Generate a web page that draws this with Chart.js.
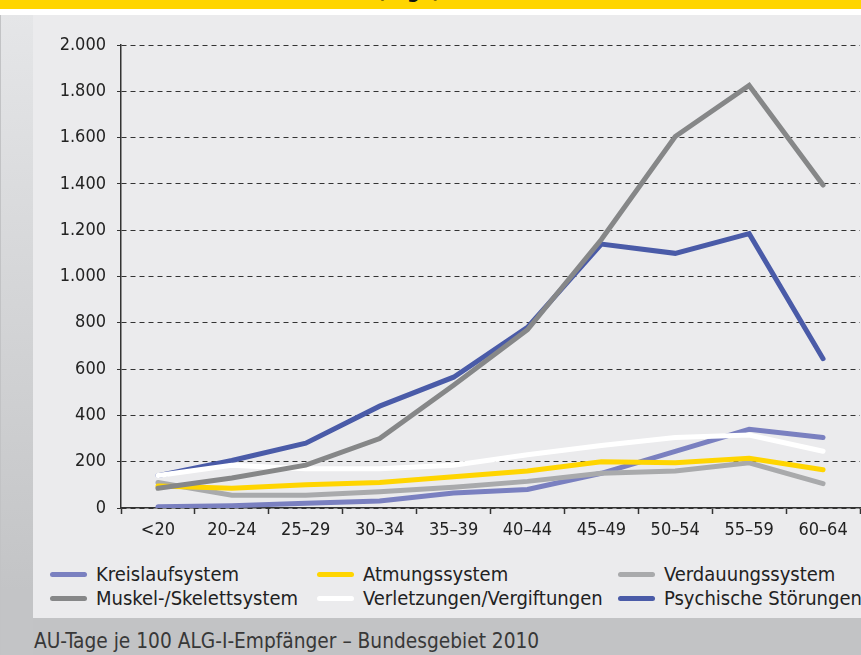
<!DOCTYPE html>
<html lang="de">
<head>
<meta charset="utf-8">
<title>AU-Tage je 100 ALG-I-Empfänger</title>
<script src="https://cdn.jsdelivr.net/npm/chart.js@4.4.1/dist/chart.umd.min.js"></script>
<style>
    html, body {
        margin: 0;
        padding: 0;
    }
    body {
        width: 861px;
        height: 655px;
        position: relative;
        overflow: hidden;
        background: #c2c3c5;
        font-family: 'DejaVu Sans Condensed', 'Liberation Sans Narrow', Roboto, sans-serif;
    }
    .title-bar {
        position: absolute;
        left: 0; top: 0;
        width: 861px; height: 9px;
        background: #ffd500;
        overflow: hidden;
    }
    .title-bar span {
        position: absolute;
        left: 377px; top: -19px;
        font-size: 20px;
        line-height: 20px;
        font-weight: bold;
        color: #111;
        white-space: nowrap;
    }
    .gap {
        position: absolute;
        left: 0; top: 9px;
        width: 861px; height: 6px;
        background: #fff;
    }
    .side {
        position: absolute;
        left: 1px; top: 15px;
        width: 32px; height: 640px;
        background: linear-gradient(#e5e6e8, #c3c4c6 90%);
    }
    .panel {
        position: absolute;
        left: 33px; top: 15px;
        width: 828px; height: 603px;
        background: #ebebed;
    }
    .chart-box {
        position: absolute;
        left: 0; top: 0;
        width: 828px; height: 530px;
    }
    .legend .item {
        position: absolute;
        height: 24px;
        line-height: 24px;
        font-size: 20px;
        color: #222;
        white-space: nowrap;
    }
    .legend .swatch {
        display: inline-block;
        width: 37px;
        height: 5px;
        border-radius: 3px;
        vertical-align: middle;
        margin-right: 9px;
        position: relative;
        top: -1px;
    }
    .footer {
        position: absolute;
        left: 34px; top: 629px;
        font-size: 20.7px;
        line-height: 24px;
        color: #383838;
        white-space: nowrap;
    }
</style>
</head>
<body>
<div class="title-bar"><span>(Tage)</span></div>
<div class="gap"></div>
<div class="side"></div>
<div class="panel">
    <div class="chart-box"><canvas id="auChart"></canvas></div>
    <div class="legend" id="legend"></div>
</div>
<div class="footer">AU-Tage je 100 ALG-I-Empfänger – Bundesgebiet 2010</div>

<script>
// Altersgruppen und Werte (AU-Tage je 100 Empfänger)
const ageGroups = ['<20', '20–24', '25–29', '30–34', '35–39', '40–44', '45–49', '50–54', '55–59', '60–64'];

const kreislauf    = [5, 10, 20, 30, 65, 80, 150, 245, 340, 305];
const atmung       = [95, 85, 100, 110, 135, 160, 200, 195, 215, 165];
const verdauung    = [110, 55, 55, 70, 90, 115, 150, 160, 195, 105];
const muskel       = [85, 130, 185, 300, 530, 770, 1160, 1605, 1825, 1395];
const verletzungen = [140, 185, 170, 170, 185, 230, 270, 305, 315, 245];
const psychisch    = [140, 205, 280, 440, 565, 780, 1140, 1100, 1185, 645];

const yTicks = [0, 200, 400, 600, 800, 1000, 1200, 1400, 1600, 1800, 2000];
const yTickLabels = ['0', '200', '400', '600', '800', '1.000', '1.200', '1.400', '1.600', '1.800', '2.000'];

const FONT = "'DejaVu Sans Condensed', 'Liberation Sans Narrow', Roboto, sans-serif";

// legend order (3 columns, 2 rows) and z-order of the lines
const series = [
    { label: 'Kreislaufsystem',            data: kreislauf,    color: '#7a80c0', order: 5 },
    { label: 'Atmungssystem',              data: atmung,       color: '#ffd500', order: 2 },
    { label: 'Verdauungssystem',           data: verdauung,    color: '#a9aaac', order: 3 },
    { label: 'Muskel-/Skelettsystem',      data: muskel,       color: '#868788', order: 0 },
    { label: 'Verletzungen/Vergiftungen',  data: verletzungen, color: '#ffffff', order: 1 },
    { label: 'Psychische Störungen',       data: psychisch,    color: '#4a5ba8', order: 4 }
];

document.addEventListener('DOMContentLoaded', function() {
    buildLegend();
    drawChart();
});

function buildLegend() {
    const legend = document.getElementById('legend');
    const colX = [17, 284, 585];
    const rowY = [547, 571];
    series.forEach((s, i) => {
        const item = document.createElement('div');
        item.className = 'item';
        item.style.left = colX[i % 3] + 'px';
        item.style.top = rowY[Math.floor(i / 3)] + 'px';
        item.innerHTML = '<span class="swatch" style="background:' + s.color + '"></span>' + s.label;
        legend.appendChild(item);
    });
}

function drawChart() {
    const ctx = document.getElementById('auChart').getContext('2d');
    new Chart(ctx, {
        type: 'line',
        data: {
            labels: ageGroups,
            datasets: series.map(s => ({
                label: s.label,
                data: s.data,
                borderColor: s.color,
                backgroundColor: s.color,
                borderWidth: 5,
                borderCapStyle: 'round',
                borderJoinStyle: 'miter',
                pointRadius: 0,
                tension: 0,
                fill: false,
                order: s.order
            }))
        },
        options: {
            responsive: true,
            maintainAspectRatio: false,
            animation: false,
            layout: {
                padding: { top: 30, right: 1, left: 0, bottom: 0 }
            },
            plugins: {
                legend: { display: false },
                tooltip: { enabled: false }
            },
            scales: {
                x: {
                    type: 'category',
                    offset: true,
                    afterFit: function(scale) { scale.height = 37; },
                    grid: {
                        offset: true,
                        drawOnChartArea: false,
                        drawTicks: true,
                        tickLength: 6,
                        tickColor: '#333',
                        tickWidth: 1.5
                    },
                    border: { color: '#333', width: 1.5 },
                    ticks: {
                        color: '#222',
                        padding: 6,
                        maxRotation: 0,
                        autoSkip: false,
                        font: { family: FONT, size: 18 }
                    }
                },
                y: {
                    min: 0,
                    max: 2000,
                    afterFit: function(scale) { scale.width = 88; },
                    afterBuildTicks: function(scale) {
                        scale.ticks = yTicks.map(v => ({ value: v }));
                    },
                    grid: {
                        color: '#333',
                        lineWidth: 1,
                        tickLength: 4,
                        tickColor: '#333'
                    },
                    border: { color: '#333', width: 1.5, dash: [5, 4] },
                    ticks: {
                        color: '#222',
                        padding: 11,
                        font: { family: FONT, size: 18 },
                        callback: function(value, index) { return yTickLabels[index]; }
                    }
                }
            }
        }
    });
}
</script>
</body>
</html>
